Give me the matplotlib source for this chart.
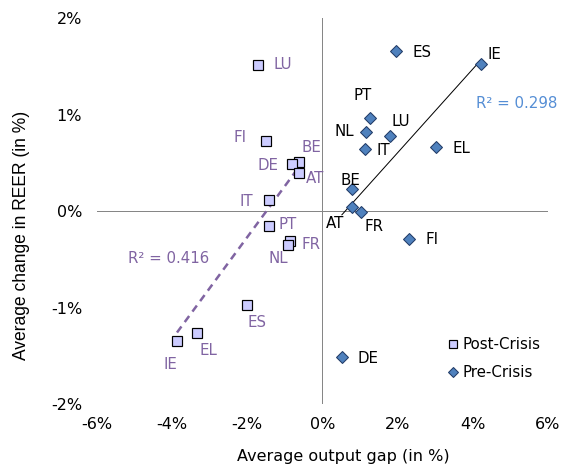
import numpy as np
import matplotlib.pyplot as plt

# Post-crisis: average output gap (x) vs average change in REER (y), in %
post_countries = ["LU", "FI", "BE", "DE", "AT", "IT", "PT", "FR", "NL", "ES", "EL", "IE"]
post_gap = [-1.72, -1.51, -0.62, -0.80, -0.61, -1.41, -1.41, -0.86, -0.92, -2.00, -3.34, -3.87]
post_reer = [1.516, 0.732, 0.511, 0.490, 0.394, 0.117, -0.149, -0.305, -0.349, -0.971, -1.264, -1.351]

# Pre-crisis
pre_countries = ["ES", "IE", "PT", "NL", "LU", "IT", "EL", "BE", "AT", "FR", "FI", "DE"]
pre_gap = [1.97, 4.22, 1.27, 1.155, 1.80, 1.14, 3.03, 0.80, 0.79, 1.04, 2.32, 0.52]
pre_reer = [1.661, 1.526, 0.970, 0.825, 0.783, 0.642, 0.669, 0.228, 0.041, -0.010, -0.284, -1.513]

post_r2 = "R² = 0.416"
pre_r2 = "R² = 0.298"

x_ticks = [-6, -4, -2, 0, 2, 4, 6]
y_ticks = [-2, -1, 0, 1, 2]

# label offsets (points) for each marker label
post_offsets = {"LU": (25, 0), "FI": (-26, 3), "BE": (12, 14), "DE": (-24, -2),
                "AT": (16, -5), "IT": (-23, -2), "PT": (18, 1), "FR": (21, -4),
                "NL": (-9, -14), "ES": (10, -18), "EL": (12, -17), "IE": (-7, -23)}
pre_offsets = {"ES": (26, -2), "IE": (14, 10), "PT": (-7, 22), "NL": (-21, 0),
               "LU": (11, 14), "IT": (18, -1), "EL": (25, -2), "BE": (-2, 9),
               "AT": (-17, -16), "FR": (13, -14), "FI": (23, -1), "DE": (26, -1)}

purple = "#8064A2"
blue_txt = "#558ED5"
fs = 15

plt.rcParams['font.family'] = ['DejaVu Sans']
fig = plt.figure(figsize=(564 / 72, 466 / 72), dpi=72)
ax = fig.add_axes([97 / 564, 62 / 466, 450.7 / 564, 385.7 / 466])

ax.set_xlim(-6, 6)
ax.set_ylim(-2, 2)
for s in ax.spines.values():
    s.set_visible(False)
ax.axhline(0, color="#868686", lw=1, zorder=1)
ax.axvline(0, color="#868686", lw=1, zorder=1)

ax.set_xticks(x_ticks)
ax.set_xticklabels([f"{t}%" for t in x_ticks])
ax.set_yticks(y_ticks)
ax.set_yticklabels([f"{t}%" for t in y_ticks])
ax.tick_params(length=0, labelsize=16, colors="black")
ax.tick_params(axis="x", pad=13)
ax.tick_params(axis="y", pad=15)

# trendlines
b_post = np.polyfit(post_gap, post_reer, 1)
xs = np.array([min(post_gap), max(post_gap)])
ax.plot(xs, np.polyval(b_post, xs), ls=(0, (3, 2.2)), color=purple, lw=2.5, zorder=2)
b_pre = np.polyfit(pre_gap, pre_reer, 1)
xs = np.array([min(pre_gap), max(pre_gap)])
ax.plot(xs, np.polyval(b_pre, xs), color="black", lw=1, zorder=2)

ax.plot(post_gap, post_reer, ls="none", marker="s", ms=10.5, mfc="#CCCCFF",
        mec="black", mew=1.2, zorder=3, label="Post-Crisis")
ax.plot(pre_gap, pre_reer, ls="none", marker="D", ms=8.5, mfc="#4F81BD",
        mec="#1F3864", mew=1, zorder=3, label="Pre-Crisis")

for c, x, y in zip(post_countries, post_gap, post_reer):
    ax.annotate(c, (x, y), xytext=post_offsets[c], textcoords="offset points",
                ha="center", va="center", fontsize=fs, color=purple, zorder=4)
for c, x, y in zip(pre_countries, pre_gap, pre_reer):
    ax.annotate(c, (x, y), xytext=pre_offsets[c], textcoords="offset points",
                ha="center", va="center", fontsize=fs, color="black", zorder=4)

ax.text(-4.10, -0.487, post_r2, ha="center", va="center", fontsize=fs, color=purple)
ax.text(5.17, 1.112, pre_r2, ha="center", va="center", fontsize=fs, color=blue_txt)

ax.legend(loc="center left", bbox_to_anchor=(0.76, 0.118), frameon=False,
          fontsize=fs, handlelength=0.8, handletextpad=0.2, borderpad=0,
          labelspacing=0.85, markerscale=0.85)

ax.set_xlabel("Average output gap (in %)", fontsize=16, va="center")
ax.xaxis.set_label_coords(0.547, -0.137)
ax.set_ylabel("Average change in REER (in %)", fontsize=17.5, va="center",
              family="Liberation Sans")
ax.yaxis.set_label_coords(-0.1675, 0.438)

fig.savefig("out.png", dpi=72)
